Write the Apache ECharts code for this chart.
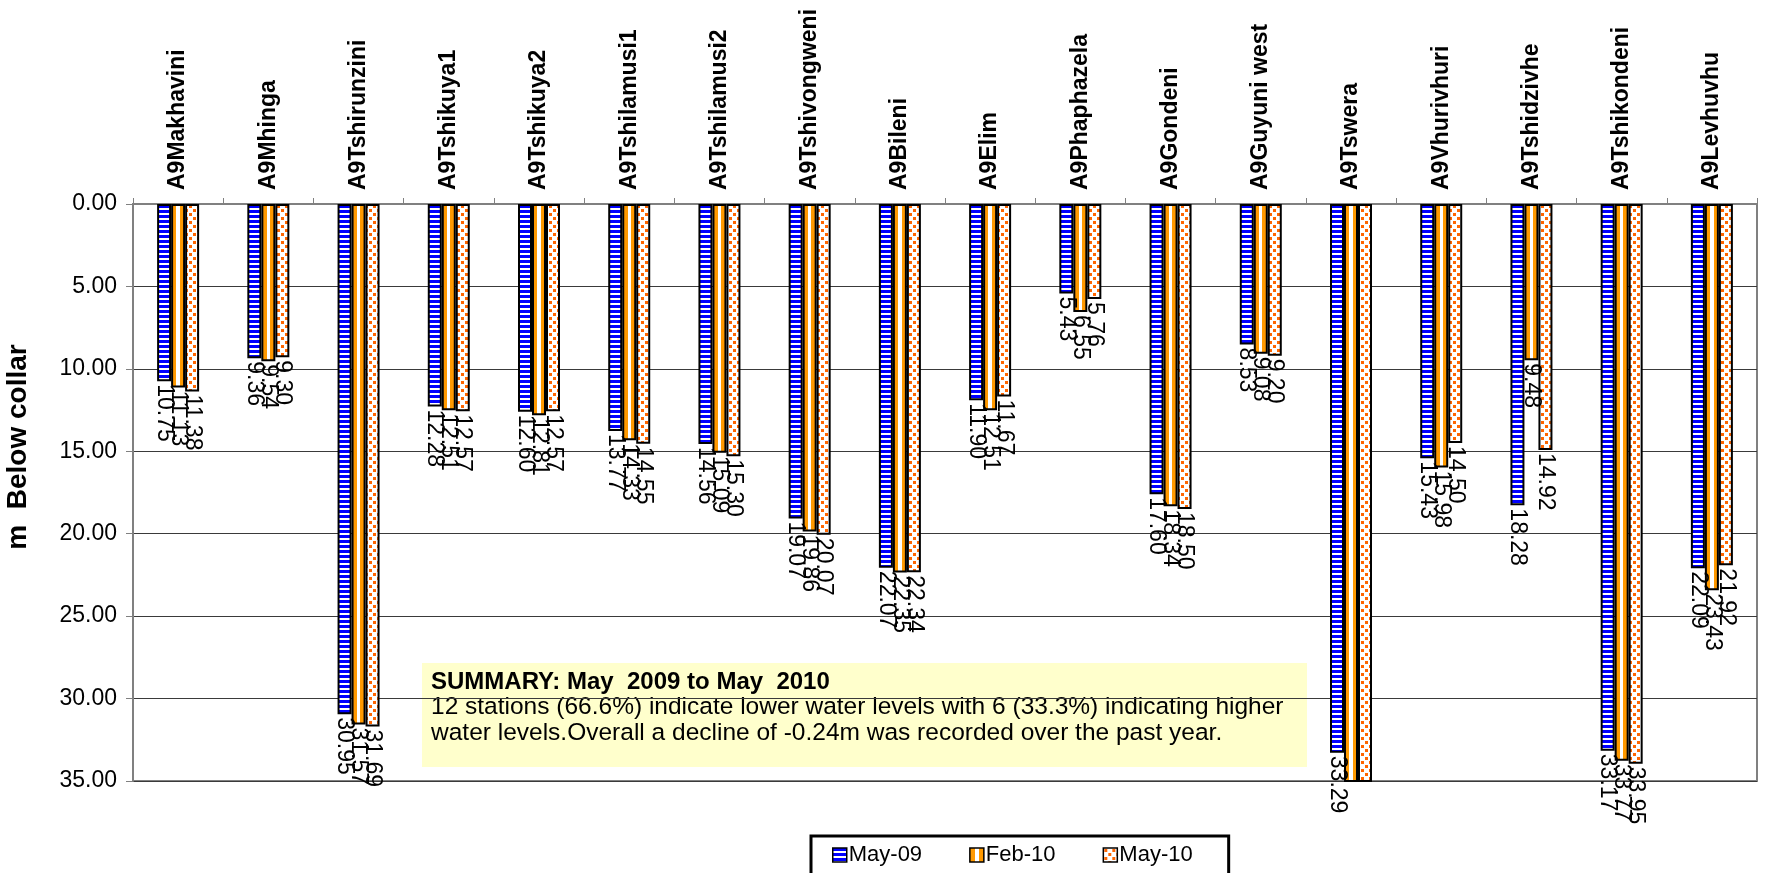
<!DOCTYPE html>
<html>
<head>
<meta charset="utf-8">
<script src="https://cdn.jsdelivr.net/npm/echarts@6/dist/echarts.min.js"></script>
<style>
html,body{margin:0;padding:0;background:#fff;}
#chart{width:1774px;height:873px;}
</style>
</head>
<body>
<div id="chart"></div>
<script>
const categories = ['A9Makhavini','A9Mhinga','A9Tshirunzini','A9Tshikuya1','A9Tshikuya2','A9Tshilamusi1','A9Tshilamusi2','A9Tshivongweni','A9Bileni','A9Elim','A9Phaphazela','A9Gondeni','A9Guyuni west','A9Tswera','A9Vhurivhuri','A9Tshidzivhe','A9Tshikondeni','A9Levhuvhu'];
const may09 = [10.75, 9.36, 30.95, 12.28, 12.60, 13.77, 14.56, 19.07, 22.07, 11.90, 5.43, 17.60, 8.53, 33.29, 15.43, 18.28, 33.17, 22.09];
const feb10 = [11.13, 9.54, 31.57, 12.51, 12.81, 14.33, 15.09, 19.86, 22.35, 12.51, 6.55, 18.34, 9.08, 35.70, 15.98, 9.48, 33.77, 23.43];
const may10 = [11.38, 9.30, 31.69, 12.57, 12.57, 14.55, 15.30, 20.07, 22.34, 11.67, 5.76, 18.50, 9.20, 35.60, 14.50, 14.92, 33.95, 21.92];
const seriesNames = ['May-09', 'Feb-10', 'May-10'];
const yTicks = ['0.00','5.00','10.00','15.00','20.00','25.00','30.00','35.00'];
const summaryTitle = 'SUMMARY: May  2009 to May  2010';
const summaryLines = ['12 stations (66.6%) indicate lower water levels with 6 (33.3%) indicating higher', 'water levels.Overall a decline of -0.24m was recorded over the past year.'];

const Y_MAX = 35;
const FONT = '"Liberation Sans", Arial, sans-serif';

function makeCanvas(w, h, draw) {
  const c = document.createElement('canvas');
  c.width = w; c.height = h;
  draw(c.getContext('2d'));
  return c;
}
const bluePattern = makeCanvas(4, 5, ctx => {
  ctx.fillStyle = '#ffffff'; ctx.fillRect(0, 0, 4, 5);
  ctx.fillStyle = '#0000ff'; ctx.fillRect(0, 0, 4, 3);
});
const dotPattern = makeCanvas(8, 8, ctx => {
  ctx.fillStyle = '#ffffff'; ctx.fillRect(0, 0, 8, 8);
  ctx.fillStyle = '#ff6600'; ctx.fillRect(1, 1, 3, 3); ctx.fillRect(5, 5, 3, 3);
});
const orangeFill = {
  type: 'linear', x: 0, y: 0, x2: 1, y2: 0,
  colorStops: [
    {offset: 0, color: '#ff9900'}, {offset: 0.38, color: '#ff9900'},
    {offset: 0.38, color: '#ffffff'}, {offset: 0.62, color: '#ffffff'},
    {offset: 0.62, color: '#ff9900'}, {offset: 1, color: '#ff9900'}
  ]
};
const fills = [{image: bluePattern, repeat: 'repeat'}, orangeFill, {image: dotPattern, repeat: 'repeat'}];
const values = [may09, feb10, may10];

function buildData(arr) {
  return arr.map(v => v > Y_MAX ? {value: v, label: {show: false}} : v);
}

const series = values.map((arr, i) => ({
  name: seriesNames[i],
  type: 'bar',
  data: buildData(arr),
  barWidth: 14,
  barGap: '0%',
  clip: true,
  itemStyle: {color: fills[i], borderColor: '#000', borderWidth: 2},
  label: {
    show: true,
    position: 'bottom',
    rotate: -90,
    align: 'left',
    verticalAlign: 'middle',
    distance: 3,
    fontFamily: FONT,
    fontSize: 23,
    color: '#000',
    formatter: p => Number(p.value).toFixed(2)
  }
}));

const chart = echarts.init(document.getElementById('chart'), null, {renderer: 'canvas'});
chart.setOption({
  animation: false,
  backgroundColor: '#ffffff',
  grid: {left: 133, right: 17, top: 204, bottom: 92, show: true, borderColor: '#808080', borderWidth: 2, backgroundColor: 'transparent'},
  xAxis: {
    type: 'category',
    position: 'top',
    data: categories,
    axisLine: {show: true, lineStyle: {color: '#808080', width: 2}},
    axisTick: {show: true, alignWithLabel: false, length: 6, lineStyle: {color: '#808080'}},
    axisLabel: {rotate: 90, interval: 0, margin: 14, fontFamily: FONT, fontSize: 23, fontWeight: 'bold', color: '#000'},
    splitLine: {show: false}
  },
  yAxis: {
    type: 'value',
    inverse: true,
    min: 0, max: Y_MAX, interval: 5,
    axisLine: {show: true, lineStyle: {color: '#808080', width: 2}},
    axisTick: {show: true, length: 7, lineStyle: {color: '#808080'}},
    axisLabel: {margin: 16, fontFamily: FONT, fontSize: 23, color: '#000', formatter: (v, idx) => yTicks[idx] !== undefined ? yTicks[idx] : v.toFixed(2)},
    splitLine: {show: true, lineStyle: {color: '#3a3a3a', width: 1}}
  },
  legend: {
    data: seriesNames,
    left: 811, top: 836,
    orient: 'horizontal',
    borderColor: '#000', borderWidth: 3,
    padding: [8, 36, 14, 21],
    itemWidth: 14, itemHeight: 14, itemGap: 47,
    icon: 'rect',
    itemStyle: {borderColor: '#000', borderWidth: 1.5},
    textStyle: {fontFamily: FONT, fontSize: 22, color: '#000', padding: [0, 0, 0, -3]}
  },
  graphic: [
    {
      type: 'text', rotation: Math.PI / 2,
      x: 18, y: 447,
      style: {text: 'm  Below collar', font: 'bold 28px ' + FONT, fill: '#000', textAlign: 'center', textVerticalAlign: 'middle'}
    },
    {
      type: 'group', left: 422, top: 663,
      children: [
        {type: 'rect', shape: {x: 0, y: 0, width: 885, height: 104}, style: {fill: '#ffffcc'}},
        {type: 'text', x: 9, y: 7, style: {text: summaryTitle, font: 'bold 24px ' + FONT, fill: '#000'}},
        {type: 'text', x: 9, y: 32, style: {text: summaryLines[0], font: '24.5px ' + FONT, fill: '#000'}},
        {type: 'text', x: 9, y: 58, style: {text: summaryLines[1], font: '24.5px ' + FONT, fill: '#000'}}
      ]
    }
  ],
  series: series
});
</script>
</body>
</html>
